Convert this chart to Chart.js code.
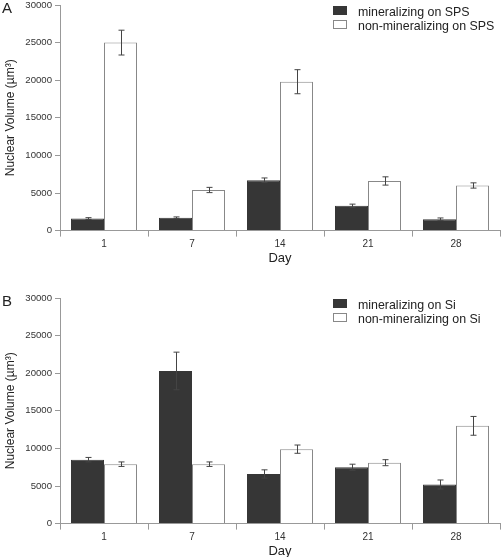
<!DOCTYPE html>
<html lang="en">
<head>
    <meta charset="UTF-8">
    <title>Nuclear Volume</title>
    <script src="https://cdn.jsdelivr.net/npm/chart.js"></script>
    <style>
        body { margin: 0; width: 501px; height: 557px; overflow: hidden; background: #fff;
               font-family: "Liberation Sans", Arial, sans-serif; color: #222; }
        .panel { position: absolute; left: 0; width: 501px; height: 293px; }
        .tag { position: absolute; left: 2px; top: -1px; font-size: 15px; color: #222; }
        .legend { position: absolute; left: 333px; top: 5px; font-size: 12.4px; line-height: 14px; }
        .legend div { white-space: nowrap; }
        .legend i { display: inline-block; width: 12px; height: 7px; margin-right: 11px; vertical-align: 1px; }
        .dark { background: #363636; border: 1px solid #363636; }
        .light { background: #fff; border: 1px solid #888; }
    </style>
</head>
<body>
    <div class="panel" style="top:0">
        <canvas id="chartA"></canvas>
        <span class="tag">A</span>
        <div class="legend">
            <div><i class="dark"></i>mineralizing on SPS</div>
            <div><i class="light"></i>non-mineralizing on SPS</div>
        </div>
    </div>
    <div class="panel" style="top:293px">
        <canvas id="chartB"></canvas>
        <span class="tag">B</span>
        <div class="legend">
            <div><i class="dark"></i>mineralizing on Si</div>
            <div><i class="light"></i>non-mineralizing on Si</div>
        </div>
    </div>

    <script>
        // days on the x axis
        const days = ['1', '7', '14', '21', '28'];

        // panel A: SPS substrate
        const minSPS = [1600, 1700, 6700, 3300, 1500];
        const minSPSErr = [120, 120, 300, 220, 180];
        const nonSPS = [25000, 5400, 19800, 6600, 6000];
        const nonSPSErr = [1650, 350, 1600, 550, 350];

        // panel B: Si substrate
        const minSi = [8500, 20300, 6600, 7500, 5200];
        const minSiErr = [300, 2500, 550, 400, 600];
        const nonSi = [7900, 7900, 9900, 8100, 13000];
        const nonSiErr = [300, 300, 550, 400, 1250];

        const axisColor = '#999';
        const font = 'Liberation Sans, Arial, sans-serif';

        // error bars drawn from the y scale
        const errorBars = {
            id: 'errorBars',
            afterDatasetsDraw(chart) {
                const ctx = chart.ctx;
                const y = chart.scales.y;
                ctx.save();
                ctx.strokeStyle = '#444';
                ctx.lineWidth = 1;
                chart.data.datasets.forEach((ds, di) => {
                    const meta = chart.getDatasetMeta(di);
                    meta.data.forEach((bar, i) => {
                        const v = ds.data[i], e = ds.errors[i];
                        const top = y.getPixelForValue(v + e);
                        const bot = y.getPixelForValue(v - e);
                        const x = Math.round(bar.x) + 0.5;
                        ctx.beginPath();
                        ctx.moveTo(x, top); ctx.lineTo(x, bot);
                        ctx.moveTo(x - 3, top); ctx.lineTo(x + 3, top);
                        ctx.moveTo(x - 3, bot); ctx.lineTo(x + 3, bot);
                        ctx.stroke();
                    });
                });
                ctx.restore();
            }
        };

        function makeChart(id, a, aErr, b, bErr) {
            return new Chart(document.getElementById(id), {
                type: 'bar',
                data: {
                    labels: days,
                    datasets: [
                        {
                            data: a,
                            errors: aErr,
                            backgroundColor: '#363636',
                            borderColor: '#363636',
                            borderWidth: 1
                        },
                        {
                            data: b,
                            errors: bErr,
                            backgroundColor: '#fff',
                            borderColor: '#888',
                            borderWidth: 1
                        }
                    ]
                },
                options: {
                    responsive: true,
                    maintainAspectRatio: false,
                    animation: false,
                    datasets: { bar: { categoryPercentage: 0.75, barPercentage: 1 } },
                    layout: { padding: { top: 5, right: 1, left: 0, bottom: 0 } },
                    plugins: { legend: { display: false }, tooltip: { enabled: false } },
                    scales: {
                        x: {
                            afterFit(s) { s.height = 62.4; s.paddingLeft = 0; s.paddingRight = 0; },
                            border: { color: axisColor },
                            grid: { drawOnChartArea: false, tickLength: 6, color: axisColor, offset: true },
                            ticks: { color: '#333', font: { family: font, size: 10 }, padding: 2 },
                            title: {
                                display: true, text: 'Day', color: '#222',
                                font: { family: font, size: 13 }, padding: { top: 0, bottom: 27 }
                            }
                        },
                        y: {
                            min: 0,
                            max: 30000,
                            afterFit(s) { s.width = 60; s.paddingTop = 0; s.paddingBottom = 0; },
                            border: { color: axisColor },
                            grid: { drawOnChartArea: false, tickLength: 5, color: axisColor },
                            ticks: {
                                stepSize: 5000, color: '#333', font: { family: font, size: 9.6 }, padding: 3,
                                callback: v => String(v)
                            },
                            title: {
                                display: true, text: 'Nuclear Volume (µm³)', color: '#222',
                                font: { family: font, size: 12 }, padding: { top: 3, bottom: 0 }
                            }
                        }
                    }
                },
                plugins: [errorBars]
            });
        }

        makeChart('chartA', minSPS, minSPSErr, nonSPS, nonSPSErr);
        makeChart('chartB', minSi, minSiErr, nonSi, nonSiErr);
    </script>
</body>
</html>
